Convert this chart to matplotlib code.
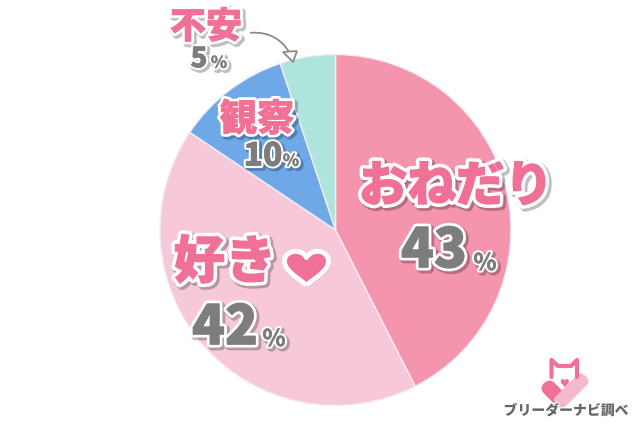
import matplotlib
matplotlib.use("Agg")
import matplotlib.pyplot as plt
import matplotlib.patheffects as pe
from matplotlib.patches import FancyArrowPatch, FancyBboxPatch, PathPatch, Polygon
from matplotlib.path import Path
from matplotlib.transforms import Affine2D

plt.rcParams["font.family"] = ["Noto Sans CJK JP", "DejaVu Sans"]

labels = ["おねだり", "好き", "観察", "不安"]
# 扇の角度は画像から読んだ値、表示は丸めた値
values = [42.5, 41.9, 10.5, 5.1]
shown = [43, 42, 10, 5]
colors = ["#f594ad", "#f6c8da", "#6fa8e6", "#afe4dc"]

PINK = "#f07096"
GRAY = "#7d7d7d"
H = 427


def y_(py):
    # 画像のピクセル座標(上から)を軸の座標に
    return H - py


def put(px, py, s, size, color, stroke=3, bold=0.8):
    t = ax.text(px, y_(py), s, fontsize=size, color=color, fontweight="black",
                ha="center", va="center")
    shadow = pe.SimpleLineShadow(offset=(1.5, -1.5), shadow_color="#000000", alpha=0.25,
                                 linewidth=stroke + 1 + bold)
    t.set_path_effects([shadow, pe.Stroke(linewidth=stroke + bold, foreground="white"),
                        pe.Stroke(linewidth=bold, foreground=color), pe.Normal()])
    return t


def rounded(cx, cy, w, h, angle, color):
    # 中心(cx, cy)で回した角丸の帯
    box = FancyBboxPatch((cx - w / 2, y_(cy) - h / 2), w, h,
                         boxstyle=f"round,pad=0,rounding_size={h / 2}",
                         facecolor=color, edgecolor="none",
                         transform=Affine2D().rotate_deg_around(cx, y_(cy), angle) + ax.transData)
    ax.add_patch(box)


def heart(cx, top, w, h, color):
    # 好きの横の横長ハート
    hw = w / 2
    bottom = y_(top + h)
    t = y_(top)
    dip = t - h * 0.17
    verts = [(cx, bottom),
             (cx - hw * 0.6, bottom + h * 0.3), (cx - hw, bottom + h * 0.48), (cx - hw, t - h * 0.28),
             (cx - hw, t + h * 0.07), (cx - hw * 0.22, t + h * 0.12), (cx, dip),
             (cx + hw * 0.22, t + h * 0.12), (cx + hw, t + h * 0.07), (cx + hw, t - h * 0.28),
             (cx + hw, bottom + h * 0.48), (cx + hw * 0.6, bottom + h * 0.3), (cx, bottom)]
    codes = [Path.MOVETO] + [Path.CURVE4] * 12
    patch = PathPatch(Path(verts, codes), facecolor=color, edgecolor="white", lw=3.5,
                      joinstyle="round", zorder=4)
    patch.set_path_effects([pe.SimplePatchShadow(offset=(1.5, -1.5), alpha=0.2), pe.Normal()])
    ax.add_patch(patch)


fig = plt.figure(figsize=(6.4, 4.27), dpi=100)
ax = fig.add_axes([0, 0, 1, 1])

ax.pie(values, colors=colors, startangle=90, counterclock=False,
       center=(335.5, y_(231)), radius=175.5, frame=True,
       wedgeprops={"edgecolor": "#f3eef2", "linewidth": 1.0})
ax.set_xlim(0, 640)
ax.set_ylim(0, H)
ax.set_aspect("equal")
ax.axis("off")

# ラベル
put(456, 188, labels[0], 35, PINK, 5)
put(225, 264, labels[1], 37, PINK, 5)
heart(306.5, 253, 44, 33, PINK)
put(257, 121, labels[2], 27, PINK, 4, 0.3)
put(206, 28, labels[3], 26, PINK, 4, 0.5)

# パーセント
put(434, 252, str(shown[0]), 39, GRAY, 4)
put(485, 264, "%", 17, GRAY, 3, 0)
put(225, 329, str(shown[1]), 39, GRAY, 4)
put(274, 340, "%", 17, GRAY, 3, 0)
put(263, 157, str(shown[2]), 23, GRAY, 3, 0.4)
put(291, 162, "%", 12, GRAY, 3, 0)
put(199, 60, str(shown[3]), 20, GRAY, 3, 0.4)
put(219, 64, "%", 12, GRAY, 3, 0)

# 不安の矢印
ax.add_patch(FancyArrowPatch((248, y_(34)), (292, y_(58)),
                             connectionstyle="arc3,rad=-0.35",
                             arrowstyle="-", color="#8a8a8a", lw=1.3))
ax.add_patch(Polygon([(283, y_(53)), (297, y_(52)), (293, y_(63))], closed=True,
                     facecolor="white", edgecolor="#8a8a8a", lw=1.3))

# ロゴ
ax.plot([551.5, 551.5, 558, 571, 577, 577], [y_(378), y_(361), y_(367), y_(367), y_(361), y_(378)],
        color=PINK, lw=3, solid_capstyle="round", solid_joinstyle="round")
rounded(554, 394, 28, 15, -45, PINK)
ax.text(564, y_(384), "♥", fontsize=7, color=PINK, ha="center", va="center")
rounded(571, 392, 42, 14, 45, "#f5b8cd")
ax.text(566, y_(412), "ブリーダーナビ調べ", fontsize=10, color="#666666", fontweight="black",
        ha="center", va="center",
        path_effects=[pe.Stroke(linewidth=1.5, foreground="white"), pe.Normal()])

fig.savefig("out.png", dpi=100)
